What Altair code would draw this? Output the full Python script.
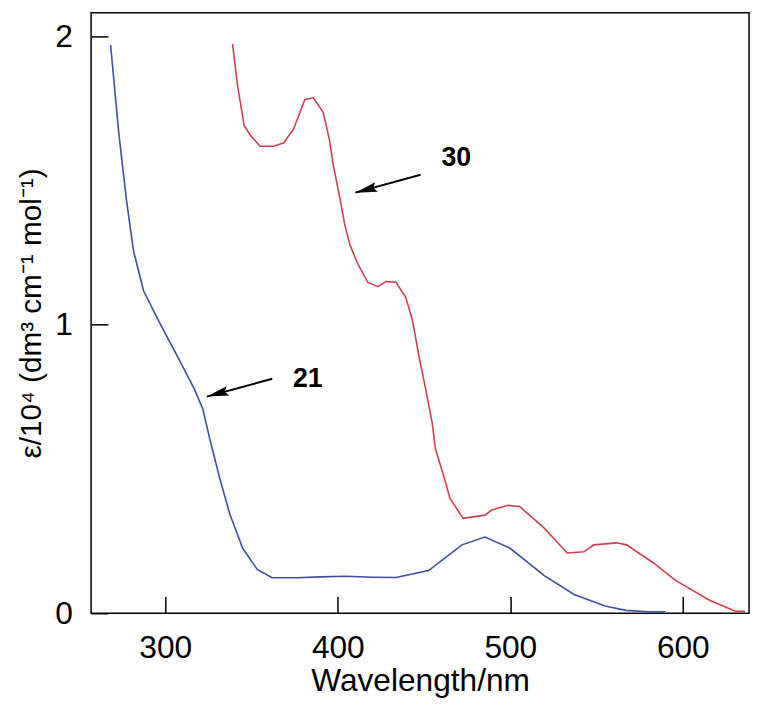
import altair as alt
import pandas as pd

# ---- data ----
wl_21 = [268.3, 273.0, 277.6, 281.6, 287.4, 296.0, 307.5, 317.0, 321.8, 325.8,
         331.6, 337.3, 344.8, 353.4, 362.0, 376.3, 390.0, 405.0, 420.0, 433.7,
         452.6, 472.0, 485.3, 499.7, 519.7, 537.0, 555.0, 567.0, 580.0, 590.0]
eps_21 = [1.970, 1.667, 1.427, 1.256, 1.118, 1.015, 0.885, 0.775, 0.707, 0.604,
          0.467, 0.346, 0.226, 0.151, 0.123, 0.123, 0.126, 0.128, 0.125, 0.124,
          0.148, 0.237, 0.264, 0.226, 0.130, 0.065, 0.025, 0.010, 0.005, 0.005]

wl_30 = [339.0, 341.9, 345.7, 349.3, 355.0, 362.9, 368.7, 374.4, 380.9, 385.9,
         391.6, 395.2, 397.4, 401.2, 404.0, 406.9, 411.7, 417.4, 423.2, 427.9,
         433.7, 439.4, 443.3, 447.1, 451.0, 454.7, 456.6, 462.4, 465.0, 472.7,
         485.3, 489.0, 498.5, 505.4, 519.7, 533.0, 542.7, 548.4, 561.6, 567.4,
         582.8, 596.0, 615.5, 630.5, 636.0]
eps_30 = [1.974, 1.828, 1.691, 1.657, 1.619, 1.619, 1.631, 1.679, 1.781, 1.787,
          1.736, 1.640, 1.553, 1.439, 1.348, 1.279, 1.210, 1.147, 1.132, 1.150,
          1.147, 1.095, 1.015, 0.890, 0.775, 0.661, 0.570, 0.456, 0.398, 0.329,
          0.340, 0.357, 0.374, 0.370, 0.295, 0.209, 0.213, 0.237, 0.244, 0.237,
          0.175, 0.113, 0.045, 0.007, 0.007]

series_names = ["21", "30"]
series_colors = ["#3d4f9f", "#d2404f"]

x_ticks = [300, 400, 500, 600]
y_ticks = [0, 1, 2]

label_text = ["21", "30"]
label_x = [382.6, 468.7]
label_y = [0.810, 1.578]
tail_x = [362.0, 448.0]
tail_y = [0.813, 1.520]
head_x = [324.1, 410.2]
head_y = [0.751, 1.458]

# ---- tables ----
spectra = pd.concat([
    pd.DataFrame({"wl": wl_21, "eps": eps_21, "s": "21"}),
    pd.DataFrame({"wl": wl_30, "eps": eps_30, "s": "30"}),
])
labels = pd.DataFrame({"x": label_x, "y": label_y, "t": label_text})
shafts = pd.DataFrame({
    "x": tail_x + head_x,
    "y": tail_y + head_y,
    "a": label_text + label_text,
})
heads = pd.DataFrame({"x": head_x, "y": head_y})

FONT = "Liberation Sans, Arial, sans-serif"

xs = alt.Scale(domain=[257.0, 638.4], nice=False, zero=False)
ys = alt.Scale(domain=[0, 2.082], nice=False, zero=False)

x_axis = alt.Axis(values=x_ticks, format="d", title="Wavelength/nm", grid=False, domain=False,
                  offset=-17, tickSize=17, tickWidth=1.5, tickColor="black",
                  labelFontSize=32, labelFont=FONT, labelColor="black", labelPadding=20,
                  titleFontSize=32, titleFont=FONT, titleFontWeight="normal",
                  titleColor="black", titlePadding=2, labelFlush=False)
y_axis = alt.Axis(values=y_ticks, labelExpr="toString(datum.value)",
                  title="ε/10⁴ (dm³ cm⁻¹ mol⁻¹)", grid=False, domain=False,
                  offset=-17, tickSize=17, tickWidth=1.5, tickColor="black",
                  labelFontSize=32, labelFont=FONT, labelColor="black", labelPadding=19,
                  labelOverlap=False,
                  titleFontSize=30, titleFont=FONT, titleFontWeight="normal",
                  titleColor="black", titlePadding=8, labelFlush=False)

lines = alt.Chart(spectra).mark_line(strokeWidth=1.6).encode(
    x=alt.X("wl:Q", scale=xs, axis=x_axis),
    y=alt.Y("eps:Q", scale=ys, axis=y_axis),
    color=alt.Color("s:N", scale=alt.Scale(domain=series_names, range=series_colors), legend=None),
)

shaft = alt.Chart(shafts).mark_line(color="black", strokeWidth=2).encode(
    x=alt.X("x:Q", scale=xs), y=alt.Y("y:Q", scale=ys), detail="a:N",
)

head = alt.Chart(heads).mark_point(
    shape="M0,0L0.45,2L0,1.7L-0.45,2Z", filled=True, color="black", opacity=1,
    size=484, angle=254.75, strokeWidth=0,
).encode(x=alt.X("x:Q", scale=xs), y=alt.Y("y:Q", scale=ys))

text = alt.Chart(labels).mark_text(
    font=FONT, fontSize=27, fontWeight="bold", color="black",
).encode(x=alt.X("x:Q", scale=xs), y=alt.Y("y:Q", scale=ys), text="t:N")

chart = alt.layer(lines, shaft, head, text).properties(
    width=665, height=607,
    autosize=alt.AutoSizeParams(type="none"),
    padding={"left": 84, "top": 1, "right": 4, "bottom": 86},
).configure_view(stroke="black", strokeWidth=1.5)

chart.save("out.html", embed_options={"renderer": "svg", "actions": False})
